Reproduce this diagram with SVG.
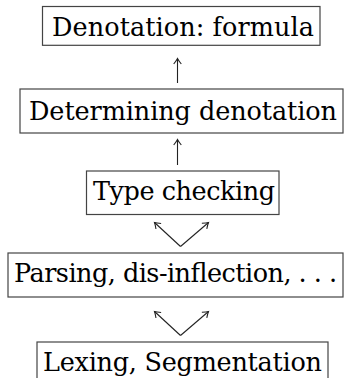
<svg xmlns="http://www.w3.org/2000/svg" width="351" height="378" viewBox="0 0 351 378">
<style>
.box{fill:#fff;stroke:#444;stroke-width:1.2}
.lbl{font-family:"DejaVu Serif","Liberation Serif",serif;font-size:25.5px;fill:#000}
.con{stroke:#222;stroke-width:1.1;fill:none}
</style>
<defs>
<marker id="ah" viewBox="-7 -5 9 10" markerWidth="9" markerHeight="10" refX="0" refY="0" orient="auto" markerUnits="userSpaceOnUse">
<path d="M -5.5,-3.8 Q -2,-1 0,0 Q -2,1 -5.5,3.8" stroke="#222" stroke-width="1.1" fill="none"/>
</marker>
</defs>
<rect width="351" height="378" fill="#fff"/>
<g id="n1">
<rect class="box" x="42.5" y="6.5" width="277.5" height="38.8"/>
<text class="lbl" x="52" y="36" textLength="262">Denotation: formula</text>
</g>
<g id="n2">
<rect class="box" x="20" y="89" width="323" height="44"/>
<text class="lbl" x="29" y="120" textLength="308">Determining denotation</text>
</g>
<g id="n3">
<rect class="box" x="86.5" y="171" width="192.5" height="43.5"/>
<text class="lbl" x="93" y="200" textLength="182">Type checking</text>
</g>
<g id="n4">
<rect class="box" x="8" y="253" width="335" height="44"/>
<text class="lbl" x="14" y="282" textLength="323">Parsing, dis-inflection, . . .</text>
</g>
<g id="n5">
<rect class="box" x="37" y="342" width="291" height="50"/>
<text class="lbl" x="43" y="371" textLength="279">Lexing, Segmentation</text>
</g>
<g id="connectors">
<line class="con" x1="177.5" y1="83" x2="177.5" y2="58.5" marker-end="url(#ah)"/>
<line class="con" x1="177.5" y1="165" x2="177.5" y2="139.5" marker-end="url(#ah)"/>
<line class="con" x1="180.5" y1="246.5" x2="154.5" y2="222.5" marker-end="url(#ah)"/>
<line class="con" x1="180.5" y1="246.5" x2="208.5" y2="222.5" marker-end="url(#ah)"/>
<line class="con" x1="180.5" y1="335.5" x2="154.5" y2="311.5" marker-end="url(#ah)"/>
<line class="con" x1="180.5" y1="335.5" x2="208.5" y2="311.5" marker-end="url(#ah)"/>
</g>
</svg>
